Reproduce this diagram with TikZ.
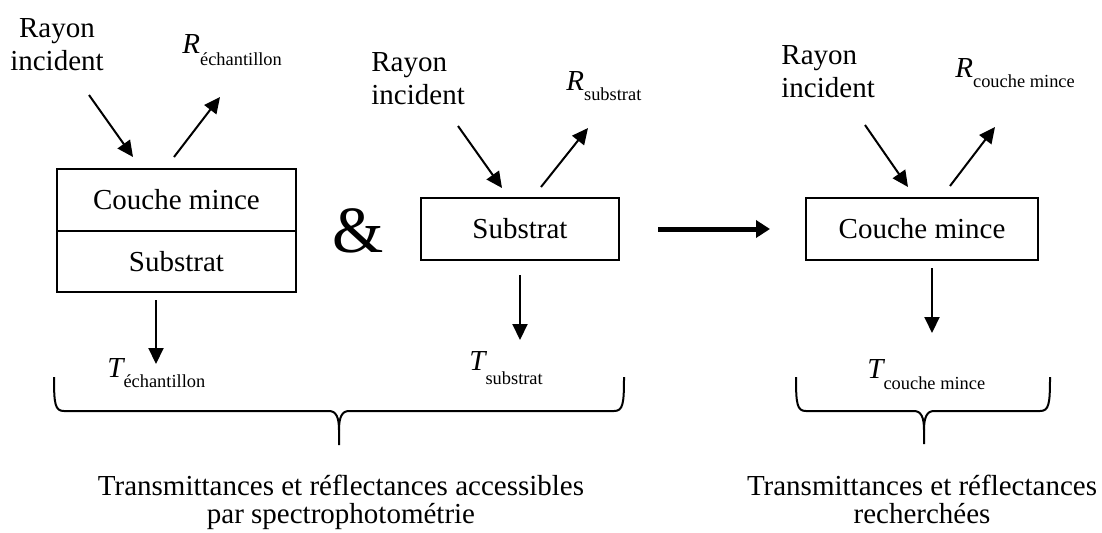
\documentclass[tikz,border=0pt]{standalone}
\usepackage{fontspec}
\setmainfont{Liberation Serif}
\usetikzlibrary{arrows.meta}
\newcommand{\lblsub}[3]{{\itshape #2}\raisebox{-#1}{\fontsize{9.2}{10}\selectfont #3}}
\begin{document}
\begin{tikzpicture}[x=0.5pt,y=-0.5pt,
  every node/.style={font=\fontsize{14.5}{16.5}\selectfont, inner sep=0pt},
  box/.style={draw, line width=1pt, minimum height=31pt},
  ray/.style={line width=1pt, -{Triangle[length=8pt,width=7.5pt]}},
  bigarrow/.style={line width=2.5pt, -{Triangle[length=7pt,width=8.5pt]}},
  bracepath/.style={line width=1pt, line join=round},
  lbl/.style={anchor=base west},
  caption/.style={align=center, anchor=north, font=\fontsize{14.5}{14}\selectfont}
]
\fill[white] (0,0) rectangle (1102,532);
\useasboundingbox (0,0) rectangle (1102,532);

% boxes
\node[box, minimum width=119.5pt, minimum height=31pt] (cm1) at (176.5,200) {Couche mince};
\node[box, minimum width=119.5pt, minimum height=30.5pt] (sub1) at (176.5,261.5) {Substrat};
\node[font=\fontsize{33}{36}\selectfont] (amp) at (358,231) {\&};
\node[box, minimum width=99pt] (sub2) at (520,229) {Substrat};
\node[box, minimum width=116pt] (cm3) at (922,229) {Couche mince};

% incident labels
\node[align=center, anchor=north] (ray1) at (57,18) {Rayon\\incident};
\node[align=left, anchor=north west] (ray2) at (371,52) {Rayon\\incident};
\node[align=left, anchor=north west] (ray3) at (781,45) {Rayon\\incident};

% R and T labels
\node[lbl] (rech) at (182,53) {\lblsub{6pt}{R}{échantillon}};
\node[lbl] (rsub) at (566,90) {\lblsub{5pt}{R}{substrat}};
\node[lbl] (rcm) at (955,77) {\lblsub{5pt}{R}{couche mince}};
\node[lbl] (tech) at (107,377) {\lblsub{5pt}{T}{échantillon}};
\node[lbl] (tsub) at (469,370) {\lblsub{7pt}{T}{substrat}};
\node[lbl] (tcm) at (867,378) {\lblsub{5.5pt}{T}{couche mince}};

% arrow end points
\coordinate (in1s) at (89,95);   \coordinate (in1e) at (133,157);
\coordinate (re1s) at (174,157); \coordinate (re1e) at (220,97);
\coordinate (in2s) at (458,126); \coordinate (in2e) at (502,188);
\coordinate (re2s) at (541,187); \coordinate (re2e) at (588,128);
\coordinate (in3s) at (865,125); \coordinate (in3e) at (908,187);
\coordinate (re3s) at (950,186); \coordinate (re3e) at (995,127);
\coordinate (dn1s) at (156,300); \coordinate (dn1e) at (156,364);
\coordinate (dn2s) at (520,275); \coordinate (dn2e) at (520,340);
\coordinate (dn3s) at (932,268); \coordinate (dn3e) at (932,333);

\draw[ray] (in1s) -- (in1e);
\draw[ray] (re1s) -- (re1e);
\draw[ray] (in2s) -- (in2e);
\draw[ray] (re2s) -- (re2e);
\draw[ray] (in3s) -- (in3e);
\draw[ray] (re3s) -- (re3e);
\draw[ray] (dn1s) -- (dn1e);
\draw[ray] (dn2s) -- (dn2e);
\draw[ray] (dn3s) -- (dn3e);

\draw[bigarrow, shorten <=19pt, shorten >=17.5pt] (sub2.east) -- (cm3.west);

% braces
\draw[bracepath] (54,377) .. controls (54,404) and (55,411) .. (64,411) -- (329,411)
  .. controls (336,411) and (339,417) .. (339,430) -- (339,445);
\draw[bracepath] (624,377) .. controls (624,404) and (623,411) .. (614,411) -- (349,411)
  .. controls (342,411) and (339,417) .. (339,430);
\draw[bracepath] (796,377) .. controls (796,404) and (797,411) .. (806,411) -- (914,411)
  .. controls (921,411) and (924,417) .. (924,430) -- (924,444);
\draw[bracepath] (1050,377) .. controls (1050,404) and (1049,411) .. (1040,411) -- (934,411)
  .. controls (927,411) and (924,417) .. (924,430);

% captions
\node[caption] (capL) at (341,475) {Transmittances et réflectances accessibles\\par spectrophotométrie};
\node[caption] (capR) at (922,475) {Transmittances et réflectances\\recherchées};
\end{tikzpicture}
\end{document}
